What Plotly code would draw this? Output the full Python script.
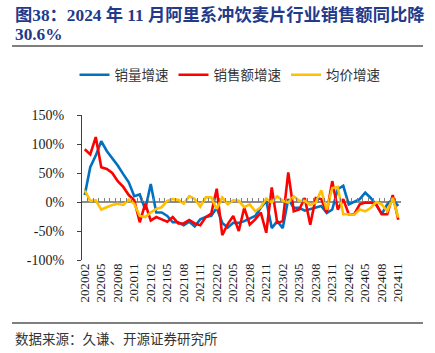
import plotly.graph_objects as go

# ---- data -------------------------------------------------------------
months = []
for y in range(2020, 2025):
    for m in range(1, 13):
        ym = f"{y}{m:02d}"
        if "202002" <= ym <= "202411":
            months.append(ym)

tick_labels = months[::3]

volume_growth = [12, 60, 80, 105, 88, 76, 63, 48, 34, 10,
                 13, -13, 31, -18, -18, -24, -35, -35, -40, -34,
                 -42, -30, -26, -24, -10, -36, -44, -36, -36, -33,
                 -29, -24, -10, 2, -45, -33, -45, 5, -10, -10,
                 -15, -12, -10, -7, -19, -13, 22, 28, -4, 0,
                 5, 16, 7, -5, -21, -4, 5, -7]

sales_growth = [91, 82, 112, 60, 57, 50, 36, 26, 12, 3,
                -35, -3, -32, -26, -30, -34, -26, -37, -37, -31,
                -37, -40, -26, -20, 23, -57, -38, -24, -50, -10,
                -39, -30, -18, -53, 25, -36, -33, 51, -16, -13,
                7, -39, 7, 5, -18, 36, -13, 5, -21, -21,
                -4, -1, -1, -4, -21, -21, 12, -30.6]

price_growth = [20, 2, 3, -13, -9, -5, -3, -5, 4, -3,
                -24, -26, -18, -12, -9, 2, 5, 4, -3, 10,
                5, -8, 8, 8, -12, 8, -4, 3, 2, -9,
                -4, -16, -9, 6, -1, 10, 2, -1, 10, 2,
                2, -5, -1, 20, -13, 24, 26, -21, -21, -22,
                -13, -16, -10, 0, -4, -16, 7, -27]

y_tickvals = [-100, -50, 0, 50, 100, 150]
y_ticktext = ["-100%", "-50%", "0%", "50%", "100%", "150%"]

series_names = ["销量增速", "销售额增速", "均价增速"]
series_colors = ["#0070C0", "#FF0000", "#FFC000"]

title_line1 = "图38：2024 年 11 月阿里系冲饮麦片行业销售额同比降"
title_line2 = "30.6%"
source_text = "数据来源：久谦、开源证券研究所"

# ---- layout geometry (pixels) ----------------------------------------
W, H = 435, 353
L, R, T, B = 82, 34, 115, 93
PW, PH = W - L - R, H - T - B


def px(xp):
    return (xp - L) / PW


def py(yp):
    return (H - B - yp) / PH


fig = go.Figure()
for name, vals, col in zip(series_names,
                           [volume_growth, sales_growth, price_growth],
                           series_colors):
    fig.add_trace(go.Scatter(x=months, y=vals, name=name, mode="lines",
                             line=dict(color=col, width=2.6),
                             hoverinfo="skip"))

# invisible trace carrying the zero-line tick axis
fig.add_trace(go.Scatter(x=months, y=[0] * len(months), xaxis="x2",
                         mode="lines", line=dict(width=0),
                         showlegend=False, hoverinfo="skip"))

serif = "Liberation Serif, Times New Roman, serif"
cjk = "Noto Sans CJK SC"

fig.update_layout(
    width=W, height=H,
    margin=dict(l=L, r=R, t=T, b=B),
    paper_bgcolor="white", plot_bgcolor="white",
    showlegend=True,
    legend=dict(orientation="h", x=px(230), xanchor="center",
                y=py(75), yanchor="middle",
                font=dict(family=cjk, size=13.5, color="#333333"),
                itemwidth=30, tracegroupgap=0,
                bgcolor="rgba(0,0,0,0)"),
    xaxis=dict(type="category", categoryorder="array", categoryarray=months,
               range=[-0.5, len(months) - 0.5],
               tickmode="array", tickvals=tick_labels, ticktext=tick_labels,
               tickangle=-90, showline=False, ticks="", showgrid=False,
               zeroline=False,
               tickfont=dict(family=serif, size=13, color="#1a1a1a")),
    xaxis2=dict(type="category", categoryorder="array", categoryarray=months,
                overlaying="x", matches="x", anchor="free",
                position=(0 - (-100)) / 250,
                showline=False, ticks="inside", ticklen=4, tickwidth=1,
                tickcolor="#7F7F7F", tickson="boundaries",
                tickmode="array", tickvals=months,
                showticklabels=False, showgrid=False, zeroline=False),
    yaxis=dict(range=[-100, 150], tickmode="array", tickvals=y_tickvals,
               ticktext=y_ticktext, showline=True, linecolor="#404040",
               linewidth=1, ticks="outside", ticklen=4, tickcolor="#404040",
               showgrid=False, zeroline=True, zerolinecolor="#8C8C8C",
               zerolinewidth=1.6, ticklabelstandoff=10,
               tickfont=dict(family=serif, size=14, color="#1a1a1a")),
)

title_font = "Liberation Serif, Noto Sans CJK SC, serif"
fig.add_annotation(xref="paper", yref="paper", x=px(13), y=py(15),
                   xanchor="left", yanchor="middle", align="left",
                   showarrow=False, text=f"<b>{title_line1}</b>",
                   font=dict(family=title_font, size=17.3, color="#23398A"))
fig.add_annotation(xref="paper", yref="paper", x=px(13), y=py(34),
                   xanchor="left", yanchor="middle", align="left",
                   showarrow=False, text=f"<b>{title_line2}</b>",
                   font=dict(family=title_font, size=17.3, color="#23398A"))

fig.add_annotation(xref="paper", yref="paper", x=px(13), y=py(338),
                   xanchor="left", yanchor="middle", align="left",
                   showarrow=False, text=source_text,
                   font=dict(family=cjk, size=13.5, color="#333333"))

for yy in (46, 323):
    fig.add_shape(type="line", xref="paper", yref="paper",
                  x0=px(12), x1=px(423), y0=py(yy), y1=py(yy),
                  line=dict(color="#555555", width=1.3))

fig.write_html("out.html")
